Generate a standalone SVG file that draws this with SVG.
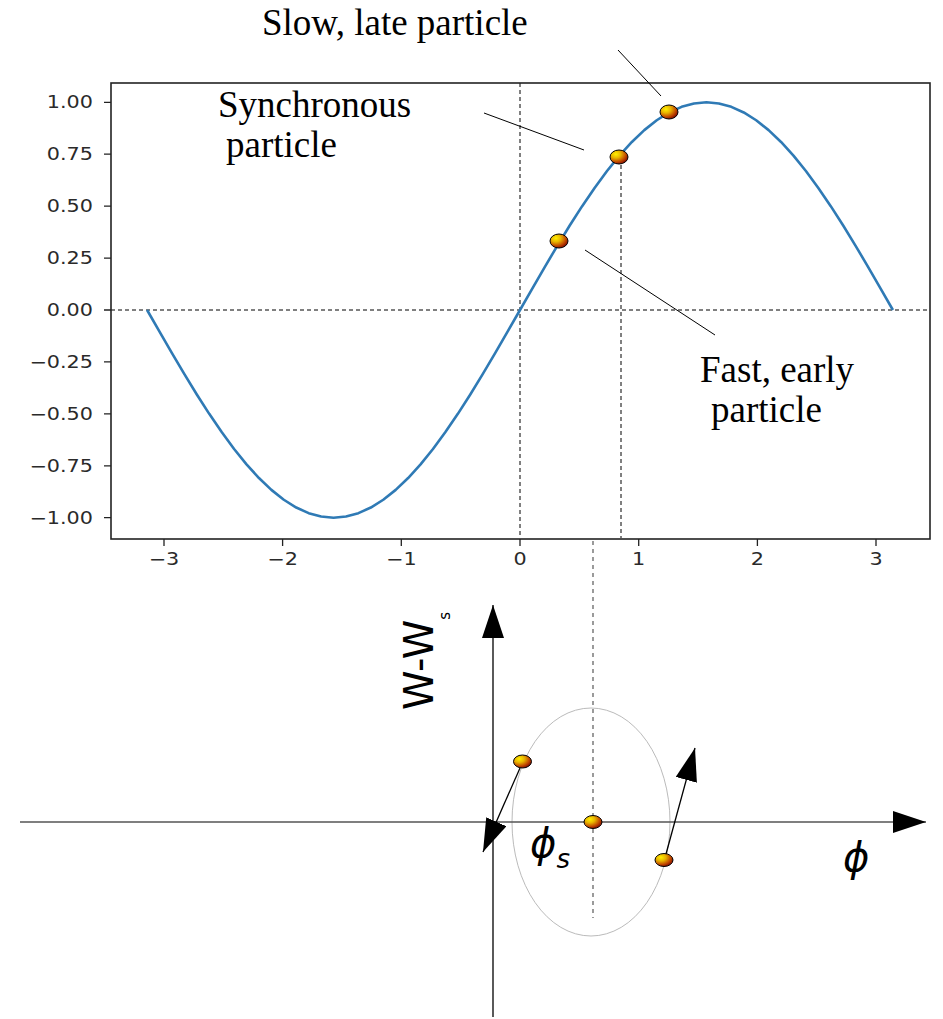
<svg xmlns="http://www.w3.org/2000/svg" width="943" height="1019" viewBox="0 0 943 1019">
<style>
.tick{stroke:#222;stroke-width:1.3;fill:none}
.tl{font-family:"DejaVu Sans",sans-serif;font-size:17px;fill:#2a2a2a}
.lab{font-family:"Liberation Serif",serif;font-size:37px;fill:#000}
.dash{stroke:#000;stroke-width:1;stroke-dasharray:4 3;fill:none}
.lead{stroke:#000;stroke-width:1;fill:none}
.arr{stroke:#000;stroke-width:1.3;fill:none}
.p{fill:url(#pg);stroke:#000;stroke-width:1}
.phi{font-family:"DejaVu Sans",sans-serif;font-style:italic;fill:#000}
.ww{font-family:"DejaVu Sans",sans-serif;font-style:normal;fill:#000}
</style>
<defs>
<radialGradient id="pg" cx="0.33" cy="0.3" r="0.78">
<stop offset="0" stop-color="#fff000"/>
<stop offset="0.35" stop-color="#e8b400"/>
<stop offset="0.7" stop-color="#c24a00"/>
<stop offset="1" stop-color="#7a0000"/>
</radialGradient>
<marker id="ah" markerUnits="userSpaceOnUse" markerWidth="33" markerHeight="22" refX="33" refY="11" orient="auto">
<path d="M0,0 L33,11 L0,22 z" fill="#000"/>
</marker>
</defs>
<rect width="943" height="1019" fill="#fff"/>

<g id="plot">
<line class="dash" x1="111" y1="310" x2="930" y2="310"/>
<line class="dash" x1="520" y1="83" x2="520" y2="538"/>
<line class="dash" x1="621" y1="158" x2="621" y2="538"/>
<polyline fill="none" stroke="#2f7ab5" stroke-width="2.6" stroke-linejoin="round" points="147.09,310 159.52,331.71 171.95,353.18 184.38,374.18 196.81,394.48 209.24,413.85 221.67,432.08 234.10,448.98 246.53,464.35 258.96,478.03 271.39,489.87 283.82,499.74 296.26,507.53 308.69,513.16 321.12,516.56 333.55,517.7 345.98,516.56 358.41,513.16 370.84,507.53 383.27,499.74 395.70,489.87 408.13,478.03 420.56,464.35 432.99,448.98 445.42,432.08 457.85,413.85 470.28,394.48 482.71,374.18 495.14,353.18 507.57,331.71 520,310 532.43,288.29 544.86,266.82 557.29,245.82 569.72,225.52 582.15,206.15 594.58,187.92 607.01,171.02 619.44,155.65 631.87,141.97 644.30,130.13 656.73,120.26 669.16,112.47 681.59,106.84 694.02,103.44 706.45,102.3 718.88,103.44 731.31,106.84 743.74,112.47 756.18,120.26 768.61,130.13 781.04,141.97 793.47,155.65 805.90,171.02 818.33,187.92 830.76,206.15 843.19,225.52 855.62,245.82 868.05,266.82 880.48,288.29 892.91,310"/>
<rect x="111" y="83" width="819" height="456" fill="none" stroke="#222" stroke-width="1.6"/>
<path class="tick" d="M104,102.3H111M104,154.2H111M104,206.2H111M104,258.1H111M104,310H111M104,361.9H111M104,413.9H111M104,465.8H111M104,517.7H111"/>
<path class="tick" d="M164,539V546M282.6,539V546M401.3,539V546M520,539V546M638.7,539V546M757.4,539V546M876,539V546"/>
<g class="tl" text-anchor="end" transform="translate(93,0) scale(1.22,1)">
<text x="0" y="108.5">1.00</text>
<text x="0" y="160.4">0.75</text>
<text x="0" y="212.4">0.50</text>
<text x="0" y="264.3">0.25</text>
<text x="0" y="316.2">0.00</text>
<text x="0" y="368.1">−0.25</text>
<text x="0" y="420.1">−0.50</text>
<text x="0" y="472">−0.75</text>
<text x="0" y="523.9">−1.00</text>
</g>
<g class="tl" text-anchor="middle">
<text transform="translate(164,565) scale(1.22,1)">−3</text>
<text transform="translate(282.6,565) scale(1.22,1)">−2</text>
<text transform="translate(401.3,565) scale(1.22,1)">−1</text>
<text transform="translate(520,565) scale(1.22,1)">0</text>
<text transform="translate(638.7,565) scale(1.22,1)">1</text>
<text transform="translate(757.4,565) scale(1.22,1)">2</text>
<text transform="translate(876,565) scale(1.22,1)">3</text>
</g>
</g>

<g id="phase-space">
<ellipse cx="591" cy="822" rx="79" ry="114" fill="none" stroke="#bbb" stroke-width="1"/>
<line x1="593" y1="541" x2="593" y2="918" stroke="#666" stroke-width="1.3" stroke-dasharray="4 4"/>
<line x1="20" y1="822" x2="926" y2="822" stroke="#555" stroke-width="1.3" marker-end="url(#ah)"/>
<line x1="493" y1="1017" x2="493" y2="605" stroke="#000" stroke-width="1.3" marker-end="url(#ah)"/>
<text class="ww" transform="translate(433,710) rotate(-90)" font-size="40">W-W<tspan font-size="15" dy="17">s</tspan></text>
<text class="phi" x="530" y="857" font-size="40">ϕ<tspan font-size="26" dy="11">s</tspan></text>
<text class="phi" x="843" y="871" font-size="40">ϕ</text>
</g>

<g id="label-slow"><text class="lab" x="262" y="35">Slow, late particle</text></g>
<g id="label-sync"><text class="lab" x="218" y="117">Synchronous</text><text class="lab" x="226" y="157">particle</text></g>
<g id="label-fast"><text class="lab" x="700" y="382">Fast, early</text><text class="lab" x="711" y="422">particle</text></g>

<g id="connectors">
<line class="lead" x1="618" y1="50" x2="661" y2="96"/>
<line class="lead" x1="484" y1="113" x2="584" y2="150"/>
<line class="lead" x1="585" y1="250" x2="715" y2="335"/>
<line class="arr" x1="520" y1="768" x2="483" y2="852" marker-end="url(#ah)"/>
<line class="arr" x1="666" y1="854" x2="695" y2="748" marker-end="url(#ah)"/>
</g>

<g id="particle-slow"><ellipse class="p" cx="669" cy="112" rx="9" ry="7"/></g>
<g id="particle-sync"><ellipse class="p" cx="619" cy="157" rx="9" ry="7"/></g>
<g id="particle-fast"><ellipse class="p" cx="559" cy="241" rx="9" ry="7"/></g>
<g id="ps-particle-1"><ellipse class="p" cx="522.5" cy="761.5" rx="9" ry="6.5"/></g>
<g id="ps-particle-2"><ellipse class="p" cx="593" cy="822" rx="9" ry="6.5"/></g>
<g id="ps-particle-3"><ellipse class="p" cx="664" cy="860" rx="9" ry="6.5"/></g>
</svg>
